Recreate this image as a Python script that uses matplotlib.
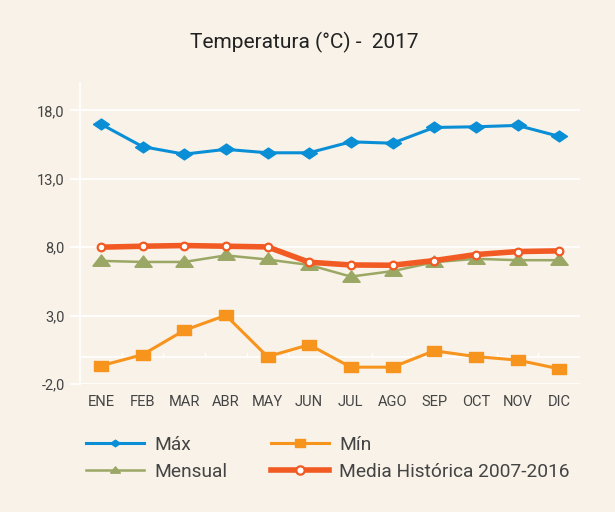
import matplotlib
matplotlib.use("Agg")
import matplotlib.pyplot as plt

months = ["ENE", "FEB", "MAR", "ABR", "MAY", "JUN", "JUL", "AGO", "SEP", "OCT", "NOV", "DIC"]
t_max = [17.0, 15.35, 14.8, 15.15, 14.9, 14.9, 15.7, 15.6, 16.75, 16.8, 16.9, 16.1]
t_min = [-0.67, 0.14, 1.92, 3.02, 0.0, 0.87, -0.77, -0.77, 0.43, 0.0, -0.25, -0.89]
t_mensual = [7.0, 6.92, 6.92, 7.4, 7.1, 6.7, 5.85, 6.25, 6.9, 7.15, 7.05, 7.05]
t_media = [8.0, 8.07, 8.12, 8.07, 8.02, 6.9, 6.7, 6.68, 7.02, 7.46, 7.68, 7.73]
yticks = [-2.0, 3.0, 8.0, 13.0, 18.0]
labels = ["Máx", "Mín", "Mensual", "Media Histórica 2007-2016"]
title = "Temperatura (°C) -  2017"

BG = "#F8F2E8"
TXT = "#444444"
plt.rcParams['font.family'] = ['Roboto', 'DejaVu Sans']

fig = plt.figure(figsize=(6.15, 5.12), dpi=100, facecolor=BG)
ax = fig.add_axes([80/615, 1-384/512, 500/615, 301/512])
ax.set_facecolor(BG)

x = list(range(len(months)))

diamond = [(-1, 0), (0, 0.68), (1, 0), (0, -0.68), (-1, 0)]
square = [(-1, -0.78), (1, -0.78), (1, 0.78), (-1, 0.78), (-1, -0.78)]
tri = [(-1, -0.55), (1, -0.55), (0, 0.75), (-1, -0.55)]

for yv in yticks:
    ax.axhline(yv, color="white", lw=1.3, zorder=1)
ax.axhline(0, color="white", lw=1.3, zorder=1)
for b in range(1, 12):
    ax.plot([b - 0.5, b - 0.5], [0, 0.25], color="white", lw=1.0, zorder=1)

l_max, = ax.plot(x, t_max, color="#0A8FD6", lw=2.2, marker=diamond, ms=11.5, zorder=4, label=labels[0])
l_min, = ax.plot(x, t_min, color="#F7941D", lw=2.2, marker=square, ms=9.8, zorder=4, label=labels[1])
l_men, = ax.plot(x, t_mensual, color="#9BA764", lw=1.8, marker=tri, ms=12.5, zorder=3, label=labels[2])
l_med, = ax.plot(x, t_media, color="#F15A22", lw=4.0, marker="o", ms=5.5, mfc="white",
                 mec="#F15A22", mew=1.6, zorder=5, label=labels[3])

ax.set_xlim(-0.5, 11.5)
ax.set_ylim(-2, 20)
ax.set_yticks(yticks)
ax.set_yticklabels([f"{v:.1f}".replace(".", ",") for v in yticks])
ax.set_xticks(x)
ax.set_xticklabels(months)
for s in ["top", "right", "bottom"]:
    ax.spines[s].set_visible(False)
ax.spines["left"].set_color("white")
ax.spines["left"].set_linewidth(1.3)
ax.tick_params(axis="y", colors="white", labelcolor=TXT, length=7, width=1.3, labelsize=10.5, pad=4)
ax.tick_params(axis="x", length=0, labelcolor=TXT, labelsize=10.5, pad=8)

fig.text(304/615, 1-42/512, title, ha="center", va="center", fontsize=15, color="#222222")

leg = fig.legend([l_max, l_men, l_min, l_med], [labels[0], labels[2], labels[1], labels[3]],
                 ncol=2, loc="upper left", bbox_to_anchor=(86/615, 1-436/512),
                 frameon=False, fontsize=13.8, handlelength=3.0, handletextpad=0.55,
                 columnspacing=2.3, labelspacing=0.45, borderpad=0, borderaxespad=0)
for t in leg.get_texts():
    t.set_color(TXT)
for h in leg.legend_handles:
    if h.get_marker() in ("o",):
        h.set_markersize(6)
    else:
        h.set_markersize(7)

fig.savefig("out.png", dpi=100, facecolor=BG)
